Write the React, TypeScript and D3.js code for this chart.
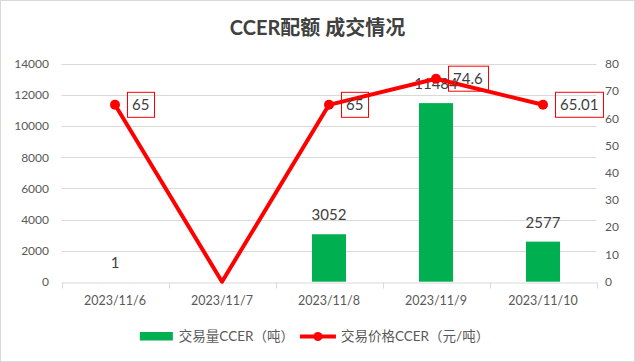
import React, { useEffect, useRef } from 'react'
import * as d3 from 'd3'

// chart data
const dates = ['2023/11/6', '2023/11/7', '2023/11/8', '2023/11/9', '2023/11/10']
const volume: (number | null)[] = [1, null, 3052, 11484, 2577]
const price: (number | null)[] = [65, null, 65, 74.6, 65.01]
const leftTicks = [0, 2000, 4000, 6000, 8000, 10000, 12000, 14000]
const rightTicks = [0, 10, 20, 30, 40, 50, 60, 70, 80]
const title = 'CCER配额 成交情况'
const volumeName = '交易量CCER（吨）'
const priceName = '交易价格CCER（元/吨）'

const FONT = "Lato, 'Noto Sans CJK SC', sans-serif"

function App() {
  const svgRef = useRef<SVGSVGElement>(null)

  useEffect(() => {
    const width = 635
    const height = 362
    const left = 61.5
    const right = 596.5
    const top = 64
    const bottom = 281.7

    const svg = d3.select(svgRef.current)
    svg.selectAll('*').remove()
    svg.attr('width', width).attr('height', height)
      .style('font-family', FONT)

    svg.append('rect')
      .attr('x', 0.5).attr('y', 0.5)
      .attr('width', width - 1).attr('height', height - 1)
      .attr('fill', 'white').attr('stroke', '#d9d9d9')

    svg.append('text')
      .attr('x', width / 2).attr('y', 35)
      .attr('text-anchor', 'middle')
      .attr('font-size', 20).attr('font-weight', 'bold')
      .attr('fill', '#404040')
      .text(title)

    const x = d3.scaleBand().domain(dates).range([left, right])
    const yL = d3.scaleLinear().domain([0, 14000]).range([bottom, top])
    const yR = d3.scaleLinear().domain([0, 80]).range([bottom, top])

    // grid
    svg.append('g').selectAll('line').data(leftTicks.filter(t => t > 0)).join('line')
      .attr('x1', left).attr('x2', right)
      .attr('y1', d => Math.round(yL(d)) + 0.5).attr('y2', d => Math.round(yL(d)) + 0.5)
      .attr('stroke', '#d9d9d9')

    // x axis
    const xAxis = d3.axisBottom(x).tickSize(0).tickPadding(14)
    const gx = svg.append('g')
      .attr('transform', `translate(0, ${Math.round(bottom) + 0.5})`)
      .call(xAxis)
    gx.select('.domain').attr('stroke', '#d9d9d9')
    gx.selectAll('text').attr('font-size', 12.5).attr('fill', '#595959').attr('font-family', FONT)
    const bounds = dates.map(d => x(d) as number).concat([right])
    gx.selectAll('line.bound').data(bounds).join('line')
      .attr('class', 'bound')
      .attr('x1', d => Math.round(d) + 0.5).attr('x2', d => Math.round(d) + 0.5)
      .attr('y1', 0).attr('y2', 6)
      .attr('stroke', '#d9d9d9')

    // y axes labels
    svg.append('g').selectAll('text').data(leftTicks).join('text')
      .attr('x', 49).attr('y', d => yL(d))
      .attr('dy', '0.35em')
      .attr('text-anchor', 'end')
      .attr('font-size', 12).attr('fill', '#595959')
      .text(d => String(d))

    svg.append('g').selectAll('text').data(rightTicks).join('text')
      .attr('x', 605).attr('y', d => yR(d))
      .attr('dy', '0.35em')
      .attr('text-anchor', 'start')
      .attr('font-size', 12).attr('fill', '#595959')
      .text(d => String(d))

    // bars
    const bw = x.bandwidth() * 0.318
    const barData = dates.map((d, i) => ({ d, v: volume[i] }))
    svg.append('g').selectAll('rect').data(barData.filter(b => b.v != null)).join('rect')
      .attr('x', b => (x(b.d) as number) + x.bandwidth() / 2 - bw / 2)
      .attr('width', bw)
      .attr('y', b => yL(b.v as number))
      .attr('height', b => bottom - yL(b.v as number))
      .attr('fill', '#00b050')

    svg.append('g').selectAll('text').data(barData.filter(b => b.v != null)).join('text')
      .attr('x', b => (x(b.d) as number) + x.bandwidth() / 2)
      .attr('y', b => yL(b.v as number) - 19)
      .attr('dy', '0.35em')
      .attr('text-anchor', 'middle')
      .attr('font-size', 15).attr('fill', '#404040')
      .text(b => String(b.v))

    // price line (empty value drawn to zero)
    const cx = (d: string) => (x(d) as number) + x.bandwidth() / 2
    const line = d3.line<number | null>()
      .x((_, i) => cx(dates[i]))
      .y(v => yR(v ?? 0))
    svg.append('path')
      .attr('d', line(price))
      .attr('fill', 'none')
      .attr('stroke', '#ff0000')
      .attr('stroke-width', 4)
      .attr('stroke-linejoin', 'round')

    const pts = dates.map((d, i) => ({ d, v: price[i] })).filter(p => p.v != null)
    svg.append('g').selectAll('circle').data(pts).join('circle')
      .attr('cx', p => cx(p.d)).attr('cy', p => yR(p.v as number))
      .attr('r', 5).attr('fill', '#ff0000')

    const labels = svg.append('g').selectAll('g').data(pts).join('g')
      .attr('transform', p => `translate(${cx(p.d) + 12}, ${yR(p.v as number)})`)
    labels.each(function (p) {
      const g = d3.select(this)
      const t = g.append('text')
        .attr('x', 5).attr('y', 0).attr('dy', '0.35em')
        .attr('font-size', 15).attr('fill', '#404040')
        .text(String(p.v))
      const w = (t.node() as SVGTextElement).getComputedTextLength()
      g.insert('rect', 'text')
        .attr('x', 0.5).attr('y', -12.5)
        .attr('width', Math.round(w + 10)).attr('height', 25)
        .attr('fill', 'none').attr('stroke', '#ff0000')
    })

    // legend
    const lg = svg.append('g').attr('font-size', 13.5).attr('fill', '#595959')
    const ly = 336.5
    lg.append('rect').attr('x', 0).attr('y', ly - 4.5).attr('width', 33).attr('height', 8.5).attr('fill', '#00b050')
    const t1 = lg.append('text').attr('x', 39).attr('y', ly).attr('dy', '0.35em').text(volumeName)
    const w1 = (t1.node() as SVGTextElement).getComputedTextLength()
    const lx = 39 + w1 + 6
    lg.append('line').attr('x1', lx).attr('x2', lx + 36).attr('y1', ly).attr('y2', ly)
      .attr('stroke', '#ff0000').attr('stroke-width', 4)
    lg.append('circle').attr('cx', lx + 18).attr('cy', ly).attr('r', 4.5).attr('fill', '#ff0000')
    const t2 = lg.append('text').attr('x', lx + 41).attr('y', ly).attr('dy', '0.35em').text(priceName)
    const total = lx + 41 + (t2.node() as SVGTextElement).getComputedTextLength()
    lg.attr('transform', `translate(${314.5 - total / 2}, 0)`)
  }, [])

  return (
    <svg ref={svgRef} style={{ position: 'absolute', left: 0, top: 0 }}></svg>
  )
}

export default App
